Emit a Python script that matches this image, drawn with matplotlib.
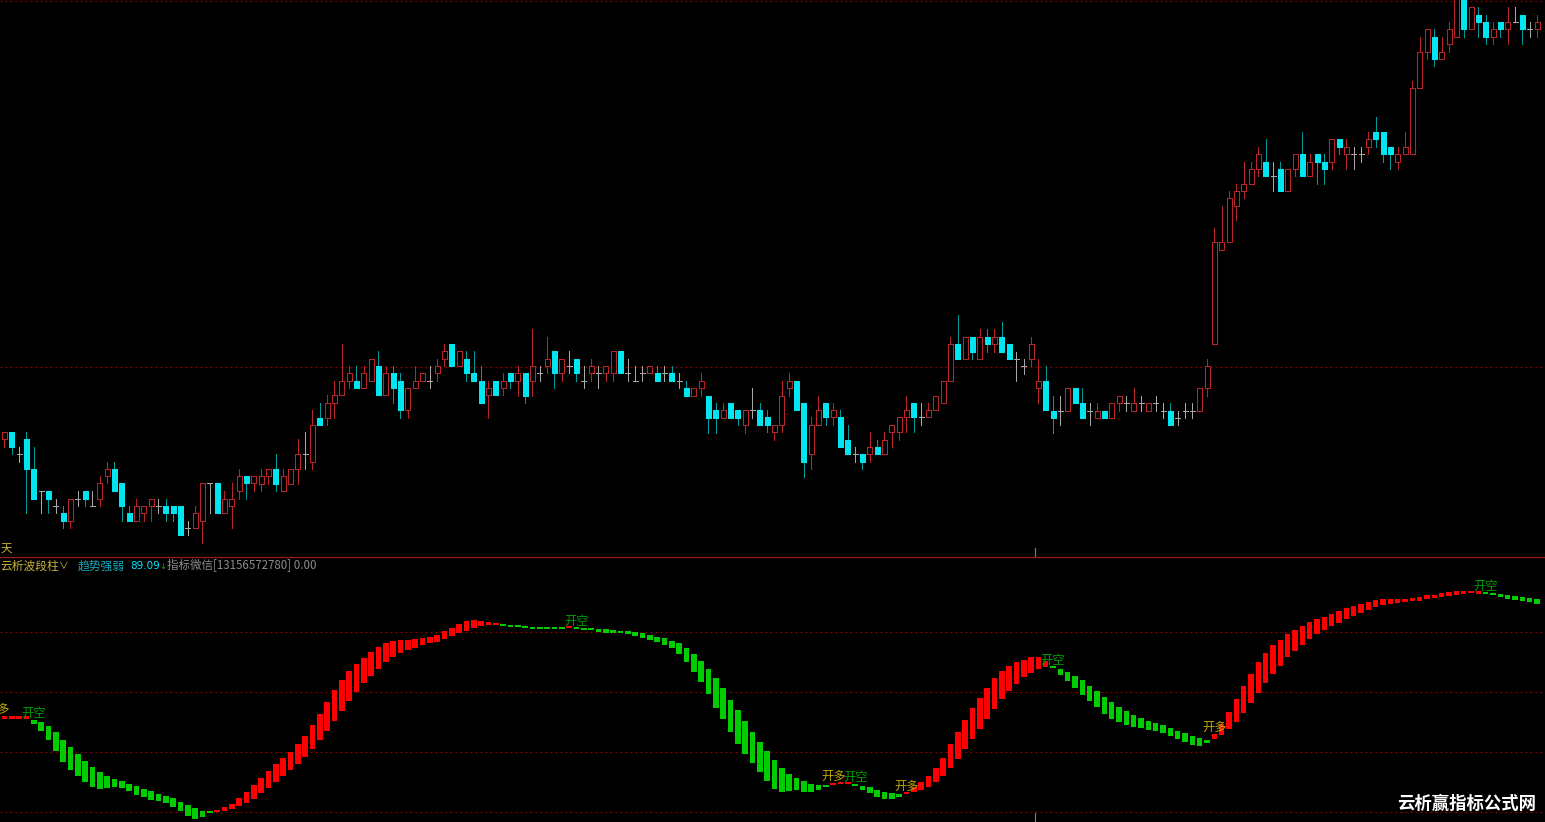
import numpy as np
import matplotlib
matplotlib.use("Agg")
import matplotlib.pyplot as plt
from matplotlib.patches import Rectangle
from matplotlib.lines import Line2D

plt.rcParams['font.family'] = ['Noto Sans CJK SC', 'DejaVu Sans']

# daily candles
opens = [5.61, 5.68, 5.46, 5.61, 5.31, 5.09, 5.09, 4.94, 4.87, 4.79,
         5.01, 5.09, 4.94, 5.01, 5.24, 5.31, 5.17, 4.87, 4.79, 4.87,
         4.94, 4.94, 4.94, 4.94, 4.94, 4.72, 4.72, 4.79, 5.17, 5.17,
         4.87, 4.94, 5.09, 5.24, 5.17, 5.16, 5.24, 5.31, 5.09, 5.16,
         5.31, 5.46, 5.38, 5.82, 5.82, 5.97, 6.05, 6.19, 6.19, 6.12,
         6.19, 6.34, 6.05, 6.27, 6.19, 5.90, 6.12, 6.19, 6.19, 6.27,
         6.41, 6.56, 6.34, 6.41, 6.27, 6.19, 6.05, 6.19, 6.12, 6.27,
         6.19, 6.27, 6.19, 6.27, 6.34, 6.49, 6.27, 6.34, 6.41, 6.19,
         6.27, 6.27, 6.27, 6.27, 6.49, 6.27, 6.19, 6.27, 6.27, 6.27,
         6.27, 6.27, 6.19, 6.12, 6.04, 6.12, 6.04, 5.90, 5.82, 5.97,
         5.90, 5.75, 5.90, 5.90, 5.83, 5.68, 5.75, 6.12, 6.19, 5.97,
         5.46, 5.75, 5.97, 5.83, 5.83, 5.60, 5.46, 5.46, 5.46, 5.53,
         5.46, 5.68, 5.68, 5.83, 5.97, 5.83, 5.83, 5.90, 5.97, 6.19,
         6.56, 6.41, 6.63, 6.41, 6.63, 6.56, 6.63, 6.56, 6.41, 6.34,
         6.41, 6.12, 6.19, 5.89, 5.89, 5.89, 6.12, 5.97, 5.89, 5.82,
         5.89, 5.82, 5.97, 5.97, 5.89, 5.97, 5.89, 5.97, 5.89, 5.89,
         5.82, 5.89, 5.89, 5.89, 6.12, 6.56, 7.50, 7.58, 7.94, 8.09,
         8.16, 8.31, 8.38, 8.24, 8.31, 8.09, 8.31, 8.46, 8.24, 8.46,
         8.38, 8.38, 8.61, 8.46, 8.46, 8.46, 8.53, 8.68, 8.68, 8.53,
         8.38, 8.46, 8.46, 9.12, 9.48, 9.63, 9.41, 9.56, 9.63, 10.05,
         9.71, 9.85, 9.78, 9.63, 9.78, 9.71, 9.78, 9.85, 9.71, 9.71]

highs = [5.68, 5.68, 5.53, 5.68, 5.53, 5.09, 5.09, 5.01, 4.94, 5.01,
         5.09, 5.09, 5.09, 5.24, 5.38, 5.38, 5.17, 4.94, 5.01, 4.94,
         5.01, 5.01, 5.01, 4.94, 4.94, 4.79, 4.94, 5.17, 5.17, 5.17,
         5.09, 5.17, 5.31, 5.24, 5.24, 5.31, 5.31, 5.46, 5.31, 5.31,
         5.61, 5.68, 5.90, 5.97, 6.05, 6.19, 6.56, 6.34, 6.34, 6.34,
         6.41, 6.49, 6.34, 6.34, 6.27, 6.12, 6.34, 6.27, 6.34, 6.41,
         6.56, 6.56, 6.49, 6.49, 6.49, 6.34, 6.19, 6.19, 6.27, 6.27,
         6.34, 6.27, 6.71, 6.34, 6.63, 6.49, 6.41, 6.49, 6.41, 6.34,
         6.41, 6.34, 6.34, 6.49, 6.49, 6.41, 6.34, 6.34, 6.34, 6.34,
         6.34, 6.34, 6.27, 6.19, 6.12, 6.27, 6.04, 5.97, 5.97, 5.97,
         5.90, 5.90, 6.12, 5.97, 5.90, 5.75, 6.19, 6.27, 6.19, 5.97,
         5.83, 6.04, 5.97, 5.97, 5.90, 5.75, 5.53, 5.46, 5.68, 5.60,
         5.68, 5.75, 5.83, 6.04, 5.97, 5.97, 5.97, 6.04, 6.19, 6.63,
         6.85, 6.63, 6.63, 6.71, 6.71, 6.71, 6.78, 6.56, 6.48, 6.41,
         6.63, 6.41, 6.34, 6.04, 6.04, 6.12, 6.12, 6.12, 5.97, 5.97,
         5.89, 5.97, 6.04, 6.04, 6.12, 6.04, 5.97, 6.04, 5.97, 5.97,
         5.89, 5.97, 5.97, 6.12, 6.41, 7.72, 7.94, 8.09, 8.16, 8.38,
         8.38, 8.53, 8.61, 8.38, 8.38, 8.31, 8.46, 8.68, 8.46, 8.46,
         8.46, 8.61, 8.61, 8.61, 8.53, 8.53, 8.68, 8.83, 8.68, 8.53,
         8.53, 8.68, 9.19, 9.63, 9.71, 9.71, 9.63, 9.78, 10.10, 10.10,
         9.93, 9.93, 9.85, 9.78, 9.78, 9.93, 9.93, 9.85, 9.78, 9.85]

lows = [5.53, 5.46, 5.38, 4.87, 5.01, 4.87, 4.87, 4.87, 4.72, 4.72,
        4.94, 4.94, 4.94, 4.94, 5.17, 5.09, 4.79, 4.79, 4.79, 4.79,
        4.79, 4.87, 4.79, 4.79, 4.65, 4.65, 4.72, 4.57, 4.87, 4.87,
        4.87, 4.72, 5.01, 5.01, 5.09, 5.09, 5.16, 5.09, 5.09, 5.16,
        5.16, 5.31, 5.31, 5.75, 5.75, 5.82, 6.05, 6.12, 6.12, 6.12,
        6.19, 6.05, 6.05, 5.97, 5.82, 5.82, 6.12, 6.19, 6.12, 6.19,
        6.34, 6.34, 6.34, 6.19, 6.19, 5.97, 5.82, 6.05, 6.05, 6.12,
        6.04, 5.97, 6.04, 6.19, 6.27, 6.12, 6.19, 6.27, 6.19, 6.12,
        6.19, 6.12, 6.19, 6.19, 6.27, 6.19, 6.19, 6.19, 6.27, 6.19,
        6.19, 6.19, 6.12, 6.04, 6.04, 6.04, 5.67, 5.67, 5.82, 5.82,
        5.75, 5.67, 5.82, 5.75, 5.68, 5.60, 5.68, 6.04, 5.90, 5.23,
        5.31, 5.75, 5.75, 5.75, 5.53, 5.46, 5.38, 5.31, 5.38, 5.46,
        5.46, 5.53, 5.60, 5.68, 5.68, 5.75, 5.83, 5.90, 5.97, 6.19,
        6.41, 6.41, 6.41, 6.41, 6.48, 6.48, 6.48, 6.41, 6.19, 6.26,
        6.34, 5.97, 5.90, 5.67, 5.75, 5.89, 5.97, 5.82, 5.75, 5.82,
        5.82, 5.82, 5.89, 5.89, 5.89, 5.89, 5.89, 5.89, 5.82, 5.75,
        5.75, 5.82, 5.82, 5.89, 6.04, 6.56, 7.50, 7.58, 7.80, 8.02,
        8.16, 8.24, 8.24, 8.09, 8.09, 8.09, 8.24, 8.24, 8.24, 8.16,
        8.16, 8.31, 8.46, 8.31, 8.31, 8.38, 8.46, 8.53, 8.38, 8.31,
        8.31, 8.46, 8.46, 9.12, 9.41, 9.34, 9.41, 9.48, 9.63, 9.63,
        9.71, 9.63, 9.56, 9.56, 9.63, 9.56, 9.78, 9.56, 9.63, 9.63]

closes = [5.68, 5.53, 5.46, 5.31, 5.01, 5.09, 5.01, 4.94, 4.79, 5.01,
          5.01, 5.01, 4.94, 5.17, 5.31, 5.09, 4.94, 4.79, 4.94, 4.94,
          5.01, 4.94, 4.87, 4.87, 4.65, 4.72, 4.87, 5.17, 5.17, 4.87,
          5.01, 5.01, 5.24, 5.17, 5.24, 5.24, 5.31, 5.16, 5.24, 5.31,
          5.46, 5.46, 5.75, 5.75, 5.97, 6.05, 6.19, 6.27, 6.12, 6.27,
          6.41, 6.05, 6.27, 6.12, 5.90, 6.12, 6.19, 6.27, 6.19, 6.34,
          6.49, 6.34, 6.49, 6.27, 6.19, 5.97, 6.12, 6.05, 6.19, 6.19,
          6.27, 6.04, 6.34, 6.27, 6.41, 6.27, 6.41, 6.34, 6.27, 6.19,
          6.34, 6.27, 6.34, 6.49, 6.27, 6.27, 6.19, 6.27, 6.34, 6.19,
          6.27, 6.19, 6.19, 6.04, 6.12, 6.19, 5.82, 5.82, 5.90, 5.82,
          5.82, 5.90, 5.90, 5.75, 5.75, 5.75, 6.04, 6.19, 5.90, 5.38,
          5.75, 5.90, 5.83, 5.90, 5.53, 5.46, 5.46, 5.38, 5.53, 5.46,
          5.60, 5.75, 5.83, 5.90, 5.83, 5.83, 5.90, 6.04, 6.19, 6.56,
          6.41, 6.63, 6.48, 6.63, 6.56, 6.63, 6.48, 6.41, 6.41, 6.34,
          6.56, 6.19, 5.90, 5.82, 5.89, 6.12, 5.97, 5.82, 5.89, 5.89,
          5.82, 5.97, 6.04, 5.97, 5.97, 5.97, 5.97, 5.97, 5.89, 5.75,
          5.82, 5.89, 5.89, 6.12, 6.34, 7.58, 7.58, 8.02, 8.09, 8.16,
          8.31, 8.46, 8.24, 8.24, 8.09, 8.31, 8.46, 8.24, 8.38, 8.38,
          8.31, 8.61, 8.53, 8.53, 8.46, 8.46, 8.61, 8.61, 8.46, 8.46,
          8.46, 8.53, 9.12, 9.48, 9.71, 9.41, 9.48, 9.71, 10.05, 9.71,
          9.93, 9.78, 9.63, 9.71, 9.71, 9.78, 9.78, 9.71, 9.71, 9.78]

# wave-column indicator: fast and slow lines, bar spans between them
fast = [52.0, 52.0, 52.0, 52.0, 49.3, 47.0, 44.0, 40.3, 36.7, 34.0,
        32.0, 30.0, 28.3, 27.7, 28.0, 28.3, 28.0, 27.0, 25.7, 25.0,
        24.0, 23.7, 23.0, 21.7, 20.3, 18.7, 17.7, 18.3, 19.7, 20.7,
        21.7, 22.7, 24.7, 26.7, 29.0, 31.3, 33.7, 36.0, 38.0, 40.0,
        42.7, 45.3, 49.0, 52.7, 56.7, 60.7, 64.0, 67.0, 69.3, 71.3,
        73.3, 75.0, 76.3, 77.0, 77.3, 77.3, 77.7, 78.0, 78.3, 79.0,
        80.3, 81.3, 82.7, 83.7, 84.0, 83.7, 83.3, 82.7, 82.0, 81.7,
        81.7, 81.3, 81.0, 81.0, 81.0, 81.0, 81.0, 81.7, 81.0, 80.7,
        80.7, 80.0, 79.7, 79.7, 79.7, 79.3, 78.7, 78.0, 77.3, 76.7,
        75.7, 74.7, 72.7, 70.0, 66.7, 63.3, 59.3, 54.7, 51.0, 46.7,
        42.7, 39.3, 36.3, 33.3, 30.3, 27.7, 26.7, 27.0, 27.3, 26.7,
        26.7, 27.3, 28.3, 29.7, 30.0, 29.7, 28.7, 27.3, 26.3, 25.0,
        24.3, 24.3, 25.0, 26.3, 28.3, 30.0, 32.0, 34.7, 38.0, 42.7,
        46.7, 50.7, 54.7, 58.0, 61.3, 64.7, 67.0, 68.7, 70.0, 70.7,
        71.7, 71.7, 70.3, 68.0, 65.7, 63.7, 61.3, 59.0, 57.0, 55.0,
        52.7, 51.0, 50.0, 49.0, 48.3, 48.0, 47.3, 47.0, 46.3, 45.3,
        44.3, 43.3, 42.3, 42.0, 43.0, 46.0, 49.3, 53.3, 57.7, 62.0,
        66.0, 70.0, 73.0, 75.7, 77.3, 79.3, 80.7, 82.0, 83.3, 84.3,
        85.0, 86.0, 87.0, 88.0, 88.7, 89.3, 90.0, 90.7, 91.0, 91.0,
        91.0, 91.0, 91.3, 91.7, 92.3, 92.3, 93.0, 93.3, 93.7, 93.7,
        93.7, 93.7, 92.7, 92.3, 91.7, 91.0, 90.7, 90.3, 90.0, 89.3]

slow = [51.0, 51.0, 51.0, 51.0, 50.7, 50.0, 48.7, 46.7, 44.0, 41.7,
        39.3, 37.0, 35.0, 33.3, 32.0, 31.0, 30.3, 29.3, 28.7, 27.7,
        27.0, 26.0, 25.3, 24.7, 23.3, 22.3, 21.3, 20.3, 20.3, 20.0,
        20.3, 21.0, 22.0, 23.0, 24.3, 26.3, 28.0, 30.0, 32.0, 34.0,
        36.0, 38.3, 41.0, 44.0, 47.0, 50.3, 53.7, 57.0, 60.0, 63.0,
        65.3, 67.7, 70.0, 71.7, 73.0, 74.0, 74.7, 75.7, 76.3, 76.7,
        77.7, 78.7, 79.7, 80.3, 81.3, 82.0, 82.3, 82.3, 82.3, 82.3,
        82.0, 82.0, 81.7, 81.7, 81.7, 81.7, 81.7, 81.3, 81.3, 81.3,
        81.3, 81.0, 81.0, 80.7, 80.3, 80.3, 80.0, 79.7, 79.0, 78.3,
        78.0, 77.0, 76.3, 74.7, 72.7, 70.3, 67.7, 64.7, 61.3, 57.3,
        54.0, 50.3, 46.7, 43.3, 40.3, 37.3, 34.7, 32.7, 31.3, 30.3,
        29.3, 29.0, 29.0, 29.0, 29.3, 29.3, 29.3, 28.7, 28.3, 27.3,
        26.7, 26.3, 26.0, 26.0, 26.7, 27.3, 28.3, 30.0, 32.0, 34.7,
        37.7, 41.0, 44.3, 47.7, 51.0, 54.3, 57.7, 60.3, 62.7, 65.0,
        66.3, 67.7, 68.3, 68.3, 67.7, 66.7, 65.3, 64.0, 62.0, 60.3,
        58.3, 56.7, 55.0, 53.7, 52.3, 51.3, 50.3, 49.7, 49.0, 48.0,
        47.0, 46.3, 45.3, 44.7, 44.0, 44.3, 45.7, 47.7, 50.0, 53.0,
        56.3, 59.7, 63.0, 66.0, 68.7, 71.7, 73.7, 75.7, 77.7, 79.3,
        80.7, 82.0, 83.0, 84.3, 85.3, 86.3, 87.3, 88.3, 89.0, 89.3,
        89.7, 90.0, 90.3, 90.3, 91.0, 91.3, 91.7, 92.0, 92.3, 92.7,
        93.0, 92.7, 93.0, 93.0, 92.7, 92.3, 92.0, 91.7, 91.3, 91.0]

signal_bars = [-1, 4, 78, 113, 116, 123, 143, 165, 202]
signal_text = ['开多', '开空', '开空', '开多', '开空', '开多', '开空', '开多', '开空']

price_grid = [6.33, 9.995]
ind_grid = [20, 40, 60, 80]
day_mark = 140.5
trend_value = 89.09

W, H = 1545, 822
split = 557  # px from the top where the two panes meet


def fx(px):
    return px / W


def fy(py):
    return 1 - py / H


fig = plt.figure(figsize=(W / 100, H / 100), dpi=100, facecolor='black')
ax = fig.add_axes([0, fy(split), 1, split / H])
ax2 = fig.add_axes([0, 0, 1, fy(split)])

n = len(closes)
xs = np.arange(n)
xlim = (-4.5 / 7.333, (W - 4.5) / 7.333)

for a in (ax, ax2):
    a.set_facecolor('black')
    a.set_xlim(*xlim)
    a.set_xticks([])
    a.set_yticks([])
    for sp in a.spines.values():
        sp.set_visible(False)

ax.set_ylim(4.43, 10.0)
ax2.set_ylim(16.67, 105)

up_col = '#b8262a'
down_col = '#00e6f0'
down_wick = '#009a9a'
doji_col = '#a8a8a8'
grid_col = '#900000'

# candles
bw = 0.7
for i in range(n):
    o, h, l, c = opens[i], highs[i], lows[i], closes[i]
    if c > o:
        ax.vlines(i, l, h, color=up_col, lw=0.72, antialiased=False, zorder=2)
        ax.add_patch(Rectangle((i - bw / 2, o), bw, c - o, facecolor='black',
                               edgecolor=up_col, lw=0.72, antialiased=False, zorder=3))
    elif c < o:
        ax.vlines(i, l, h, color=down_wick, lw=0.72, antialiased=False, zorder=2)
        ax.add_patch(Rectangle((i - bw / 2, c), bw, o - c, facecolor=down_col,
                               edgecolor=down_col, lw=0.5, antialiased=False, zorder=3))
    else:
        ax.vlines(i, l, h, color=doji_col, lw=0.72, antialiased=False, zorder=2)
        ax.hlines(o, i - bw / 2, i + bw / 2, color=doji_col, lw=0.72,
                  antialiased=False, zorder=3)

for g in price_grid:
    ax.axhline(g, color=grid_col, lw=0.9, ls=(0, (1.5, 2.5)), zorder=1)
ax.axvline(day_mark, ymin=0, ymax=9 / split, color='#808080', lw=0.8)

# indicator columns
f = np.array(fast)
s = np.array(slow)
lo = np.minimum(f, s)
hi = np.maximum(f, s)
hgt = np.maximum(hi - lo, 0.7)
cols = np.where(f > s, '#ff0000', '#00cc00')
ax2.bar(xs, hgt, bottom=lo, width=0.74, color=cols, linewidth=0, zorder=3)

for g in ind_grid:
    ax2.axhline(g, color=grid_col, lw=0.9, ls=(0, (1.5, 2.5)), zorder=1)
ax2.axvline(day_mark, ymin=0, ymax=9 / (H - split), color='#808080', lw=0.8)

for b, t in zip(signal_bars, signal_text):
    k = min(max(b, 0), n - 1)
    col = '#c0a800' if t == '开多' else '#00a000'
    ax2.text(b, hi[k] + 2.2, t, color=col, fontsize=8.8, ha='center',
             va='center', clip_on=True, zorder=4)

# pane separator
fig.add_artist(Line2D([0, 1], [fy(split), fy(split)], color='#8c1a1a', lw=1,
                      transform=fig.transFigure))

# labels
yellow = '#c8b43c'
fig.text(fx(1), fy(549), '天', color=yellow, fontsize=8.3, va='center', ha='left')
ty = fy(566)
fig.text(fx(0), ty, '云析波段柱', color=yellow, fontsize=8.5, va='center')
fig.text(fx(59), ty, '∨', color=yellow, fontsize=7, va='center')
fig.text(fx(78), ty, '趋势强弱', color='#14a8bc', fontsize=8.5, va='center')
fig.text(fx(130), ty, f'{trend_value:.2f}', color='#00e5ff', fontsize=7.5,
         va='center', family='DejaVu Sans')
fig.text(fx(159.5), ty, '↓', color='#00c000', fontsize=6, va='center',
         family='DejaVu Sans')
fig.text(fx(167), ty, '指标微信[13156572780] 0.00', color='#8c8c8c',
         fontsize=8.3, va='center')

fig.text(fx(1397), fy(804), '云析赢指标公式网', color='white', fontsize=12.5,
         fontweight='bold', va='center')

fig.savefig('out.png', dpi=100, facecolor='black')
